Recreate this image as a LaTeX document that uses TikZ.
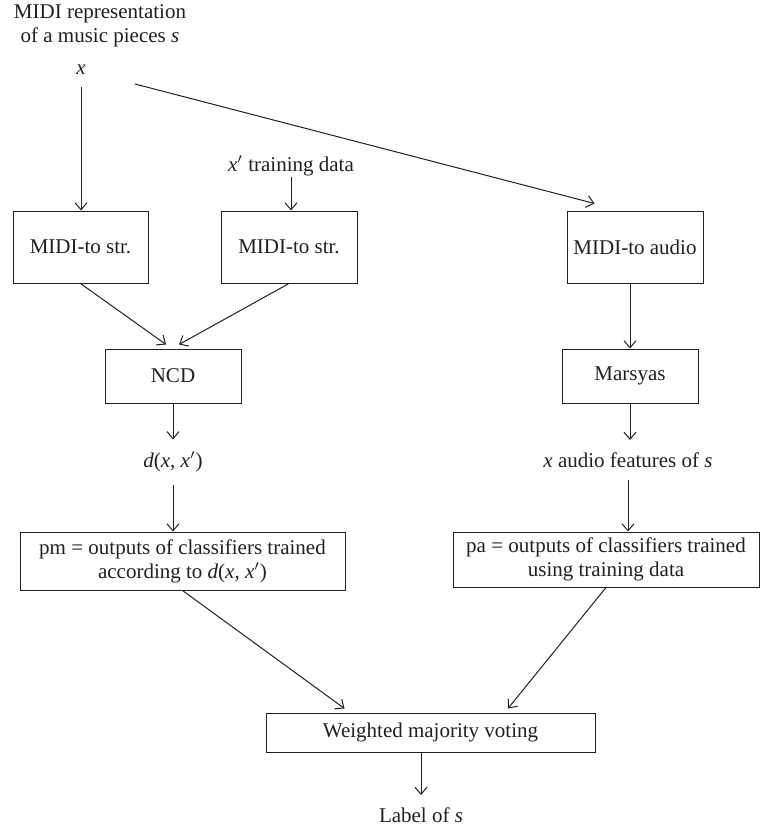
\documentclass[tikz,border=0pt]{standalone}
\usepackage{fontspec}
\setmainfont{Liberation Serif}
\usetikzlibrary{arrows.meta}
\definecolor{ink}{HTML}{231F20}
\tikzset{
  blk/.style={draw,inner sep=2pt,align=center},
  lbl/.style={inner sep=6pt,align=center},
}
\begin{document}
\begin{tikzpicture}[x=0.5pt,y=-0.5pt,>={Straight Barb[length=3.5pt,width=6pt]},line width=0.5pt,color=ink,font=\fontsize{10.5}{12}\selectfont]
\useasboundingbox (0,0) rectangle (760,830);
\node[lbl] (src) at (100,26) {MIDI representation\\of a music pieces \textit{s}};
\node[lbl] (xin) at (81,69.5) {\textit{x}};
\node[lbl,inner ysep=0pt] (xtrain) at (291,166) {\textit{x}$'$ training data};
\node[blk,minimum width=67.5pt,minimum height=36pt] (strA) at (80.5,247) {MIDI-to str.};
\node[blk,minimum width=68pt,minimum height=36pt] (strB) at (289,247) {MIDI-to str.};
\node[blk,minimum width=68pt,minimum height=36pt] (toaudio) at (635,247) {MIDI-to audio};
\node[blk,minimum width=68pt,minimum height=27pt] (ncd) at (173,376) {NCD};
\node[blk,minimum width=68pt,minimum height=27pt] (marsyas) at (630,376) {Marsyas};
\node[lbl] (dist) at (173,462) {\textit{d}(\textit{x}, \textit{x}$'$)};
\node[lbl] (feat) at (628,460) {\textit{x} audio features of \textit{s}};
\node[blk,minimum width=162.5pt,minimum height=29pt] (pm) at (182.5,561) {pm = outputs of classifiers trained\\according to \textit{d}(\textit{x}, \textit{x}$'$)};
\node[blk,minimum width=153pt,minimum height=27.5pt] (pa) at (606,559.5) {pa = outputs of classifiers trained\\using training data};
\node[blk,minimum width=164.5pt,minimum height=19.5pt] (vote) at (430.5,732.5) {Weighted majority voting};
\node[lbl] (lab) at (421,815) {Label of \textit{s}};
\coordinate (xfork) at (135,84);
\draw[->] (xin) -- (xin |- strA.north);
\draw[->] (xtrain) -- (xtrain |- strB.north);
\draw[->] (xfork) -- ([xshift=14pt,yshift=3.5pt]toaudio.north west);
\draw[->] (strA.south) -- ([xshift=-3.5pt,yshift=2pt]ncd.north);
\draw[->] (strB.south) -- ([xshift=3pt,yshift=2pt]ncd.north);
\draw[->] (marsyas |- toaudio.south) -- (marsyas.north);
\draw[->] (ncd) -- (dist);
\draw[->] (dist) -- (dist |- pm.north);
\draw[->] (marsyas) -- (marsyas |- feat.north);
\draw[->] (feat) -- (feat |- pa.north);
\draw[->] (pm.south) -- ([xshift=-43pt,yshift=2pt]vote.north);
\draw[->] (pa.south) -- ([xshift=38.75pt,yshift=2pt]vote.north);
\draw[->] (lab |- vote.south) -- (lab);
\end{tikzpicture}
\end{document}
